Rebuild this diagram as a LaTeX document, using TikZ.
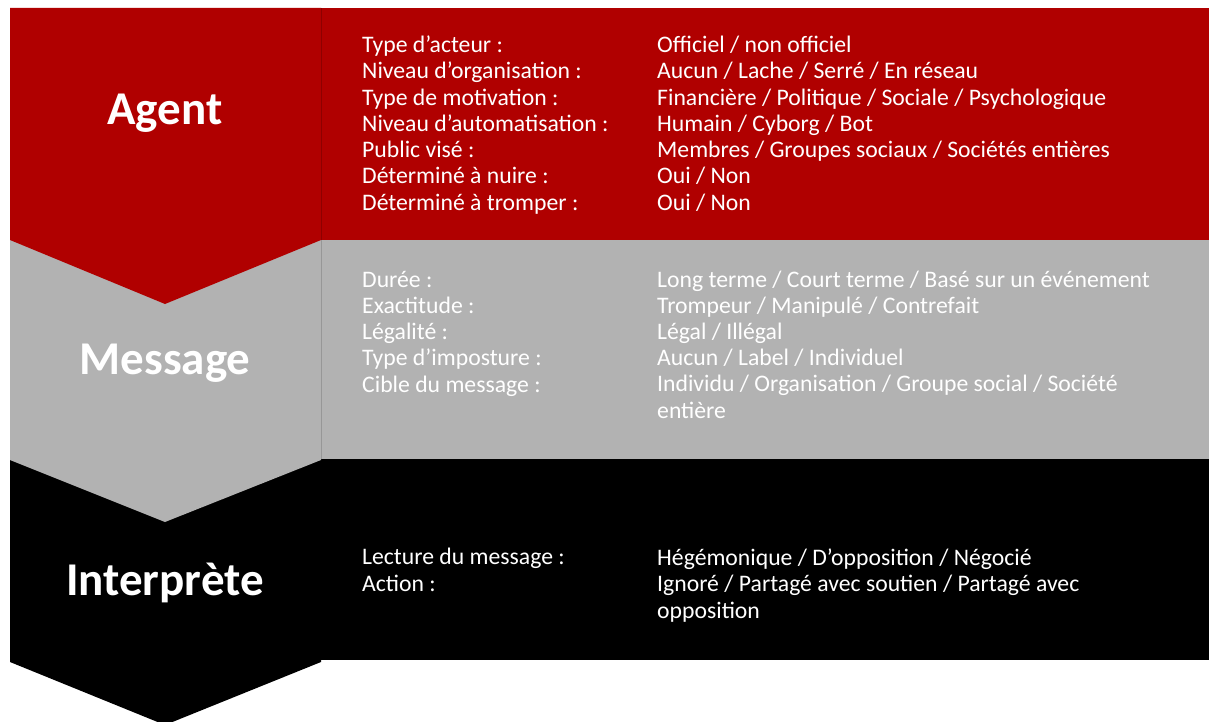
\documentclass[tikz,border=0pt]{standalone}
\usepackage{fontspec}
\setmainfont{Carlito}
\usepackage{tikz}

\definecolor{agentred}{RGB}{176,0,0}
\definecolor{messagegray}{RGB}{178,178,178}
\tikzset{
	bandtitle/.style={text=white,anchor=base,inner sep=0pt,
		font=\bfseries\fontsize{47}{50}\selectfont},
	bandtext/.style={text=white,anchor=base west,align=left,inner sep=0pt,
		font=\fontsize{23.7}{26.2}\selectfont}
}

\begin{document}
\begin{tikzpicture}[x=1pt,y=-1pt]
\useasboundingbox (0,0) rectangle (1209,722);
% bandes de droite
\fill[agentred] (321,8) rectangle (1209,240);
\fill[messagegray] (321,240) rectangle (1209,459);
\fill[black] (321,459) rectangle (1209,660);
% chevrons
\fill[black] (10,459)--(321,459)--(321,662)--(165,725)--(10,662)--cycle;
\fill[messagegray] (10,240)--(321,240)--(321,460)--(165,522)--(10,460)--cycle;
\fill[agentred] (10,8)--(321,8)--(321,240)--(165,304)--(10,240)--cycle;
\draw[agentred!80!black,thin] (321,8)--(321,240);
\draw[messagegray!85!black,thin] (321,240)--(321,459);
% titres
\node[bandtitle] (agent) at (165,125) {Agent};
\node[bandtitle] (message) at (165,374) {Message};
\node[bandtitle] (interprete) at (165,595) {Interprète};
% agent (base = derniere ligne)
\node[bandtext] (agentkeys) at (362,210) {Type d’acteur :\\Niveau d’organisation :\\
	Type de motivation :\\Niveau d’automatisation :\\Public visé :\\
	Déterminé à nuire :\\Déterminé à tromper :};
\node[bandtext] (agentvals) at (657,210) {Officiel / non officiel\\
	Aucun / Lache / Serré / En réseau\\
	Financière / Politique / Sociale / Psychologique\\
	Humain / Cyborg / Bot\\
	Membres / Groupes sociaux / Sociétés entières\\Oui / Non\\Oui / Non};
% message
\node[bandtext] (messagekeys) at (362,392) {Durée :\\Exactitude :\\Légalité :\\
	Type d’imposture :\\Cible du message :};
\node[bandtext] (messagevals) at (657,418) {Long terme / Court terme / Basé sur un événement\\
	Trompeur / Manipulé / Contrefait\\Légal / Illégal\\Aucun / Label / Individuel\\
	Individu / Organisation / Groupe social / Société\\entière};
% interprete
\node[bandtext] (interpretekeys) at (362,591) {Lecture du message :\\Action :};
\node[bandtext] (interpretevals) at (657,618) {Hégémonique / D’opposition / Négocié\\
	Ignoré / Partagé avec soutien / Partagé avec\\opposition};
\end{tikzpicture}
\end{document}
